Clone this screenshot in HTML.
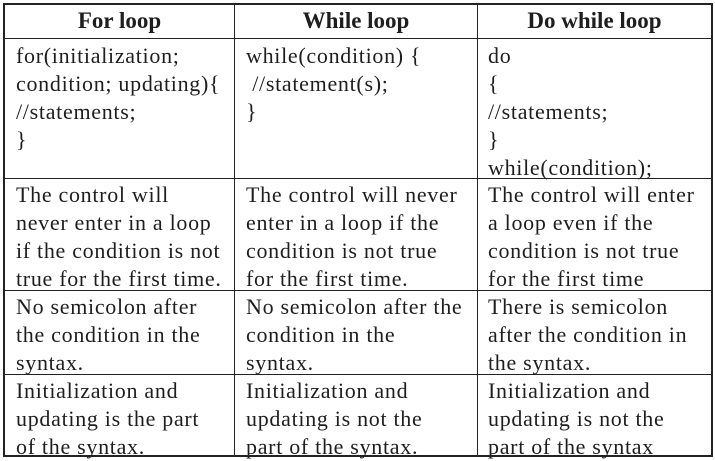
<!DOCTYPE html>
<html><head><meta charset="utf-8"><style>
body{margin:0;background:#fff;width:715px;height:459px;overflow:hidden;position:relative;font-family:"Liberation Serif",serif;color:#1e1e1e}
.l{position:absolute;background:#222}
.c{position:absolute;font-size:22px;letter-spacing:0.7px;line-height:28px;white-space:pre}
.h{position:absolute;font-size:23px;font-weight:bold;line-height:34px;text-align:center;top:4px}
</style></head><body>
<div>
<div class="l" style="left:3px;top:3px;width:710px;height:2px"></div>
<div class="l" style="left:3px;top:455px;width:710px;height:2px"></div>
<div class="l" style="left:3px;top:3px;width:2px;height:454px"></div>
<div class="l" style="left:711px;top:3px;width:2px;height:454px"></div>
<div class="l" style="left:234px;top:3px;width:1px;height:454px"></div>
<div class="l" style="left:477px;top:3px;width:1px;height:454px"></div>
<div class="l" style="left:3px;top:38px;width:710px;height:1px"></div>
<div class="l" style="left:3px;top:178px;width:710px;height:1px"></div>
<div class="l" style="left:3px;top:290px;width:710px;height:1px"></div>
<div class="l" style="left:3px;top:374px;width:710px;height:1px"></div>

<div class="h" style="left:5px;width:229px">For loop</div>
<div class="h" style="left:235px;width:242px">While loop</div>
<div class="h" style="left:478px;width:233px">Do while loop</div>

<div class="c" style="left:16px;top:42px">for(initialization;
condition; updating){
//statements;
}</div>
<div class="c" style="left:246px;top:42px">while(condition) {
 //statement(s);
}</div>
<div class="c" style="left:488px;top:42px">do
{
//statements;
}
while(condition);</div>

<div class="c" style="left:16px;top:181px">The control will
never enter in a loop
if the condition is not
true for the first time.</div>
<div class="c" style="left:246px;top:181px">The control will never
enter in a loop if the
condition is not true
for the first time.</div>
<div class="c" style="left:488px;top:181px">The control will enter
a loop even if the
condition is not true
for the first time</div>

<div class="c" style="left:16px;top:293px">No semicolon after
the condition in the
syntax.</div>
<div class="c" style="left:246px;top:293px">No semicolon after the
condition in the
syntax.</div>
<div class="c" style="left:488px;top:293px">There is semicolon
after the condition in
the syntax.</div>

<div class="c" style="left:16px;top:377px">Initialization and
updating is the part
of the syntax.</div>
<div class="c" style="left:246px;top:377px">Initialization and
updating is not the
part of the syntax.</div>
<div class="c" style="left:488px;top:377px">Initialization and
updating is not the
part of the syntax</div>
</div>
</body></html>
